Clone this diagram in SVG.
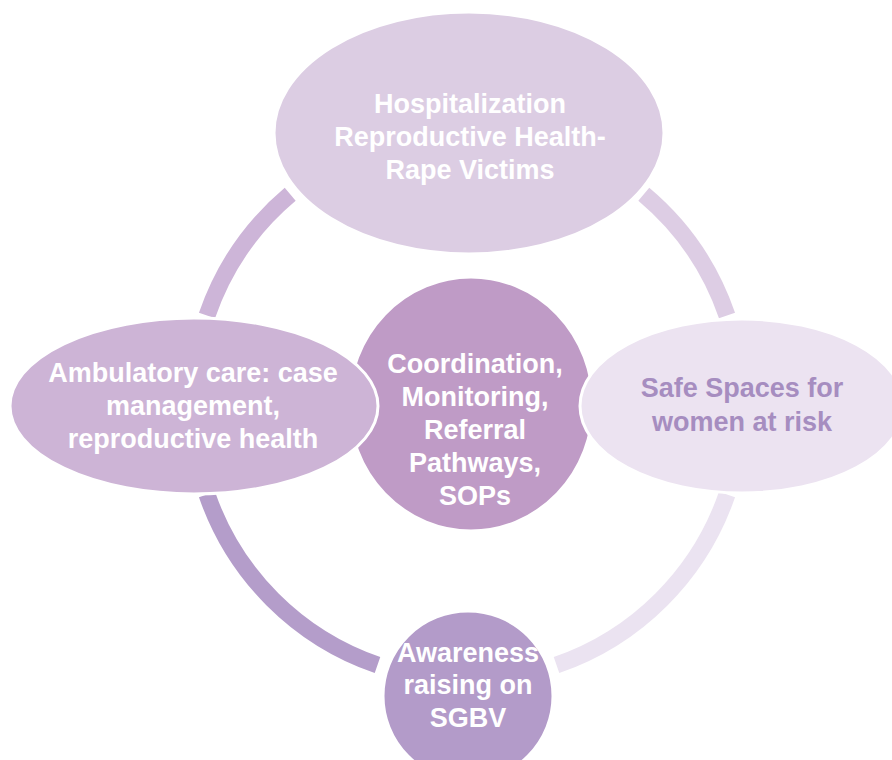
<svg xmlns="http://www.w3.org/2000/svg" width="892" height="760" viewBox="0 0 892 760">
<style>
.arc{fill:none;stroke-width:17;stroke-linecap:butt}
.node{stroke:#ffffff;stroke-width:3}
.t{font-family:"Liberation Sans",Arial,sans-serif;font-weight:bold;font-size:27px;text-anchor:middle;fill:#ffffff}
.dark{fill:#a68dc0}
</style>
<rect width="892" height="760" fill="#ffffff"/>
<g id="connectors">
<path class="arc" stroke="#cdb5d8" d="M207,315.5 A275,275 0 0 1 290.2,194.3"/>
<path class="arc" stroke="#ddcde4" d="M643.8,194.3 A275,275 0 0 1 727,315.5"/>
<path class="arc" stroke="#ebe3f1" d="M727,494.5 A275,275 0 0 1 556.5,665"/>
<path class="arc" stroke="#b49dca" d="M377.5,665 A275,275 0 0 1 207,494.5"/>
</g>
<g id="center">
<ellipse class="node" cx="471" cy="404" rx="122" ry="127" fill="#bf9bc6"/>
<text class="t" x="475" y="373">Coordination,</text>
<text class="t" x="475" y="406">Monitoring,</text>
<text class="t" x="475" y="439">Referral</text>
<text class="t" x="475" y="472">Pathways,</text>
<text class="t" x="475" y="505">SOPs</text>
</g>
<g id="top">
<ellipse class="node" cx="469" cy="133" rx="195" ry="121" fill="#dccde3"/>
<text class="t" x="470" y="113">Hospitalization</text>
<text class="t" x="470" y="146">Reproductive Health-</text>
<text class="t" x="470" y="179">Rape Victims</text>
</g>
<g id="left">
<ellipse class="node" cx="194" cy="406" rx="184" ry="88" fill="#cdb4d6"/>
<text class="t" x="193" y="382">Ambulatory care: case</text>
<text class="t" x="193" y="415">management,</text>
<text class="t" x="193" y="448">reproductive health</text>
</g>
<g id="right">
<ellipse class="node" cx="742" cy="406" rx="162" ry="87" fill="#ece3f1"/>
<text class="t dark" x="742" y="397">Safe Spaces for</text>
<text class="t dark" x="742" y="431">women at risk</text>
</g>
<g id="bottom">
<circle class="node" cx="468" cy="696" r="85" fill="#b39bc9"/>
<text class="t" x="468" y="662">Awareness</text>
<text class="t" x="468" y="694">raising on</text>
<text class="t" x="468" y="727">SGBV</text>
</g>
</svg>
